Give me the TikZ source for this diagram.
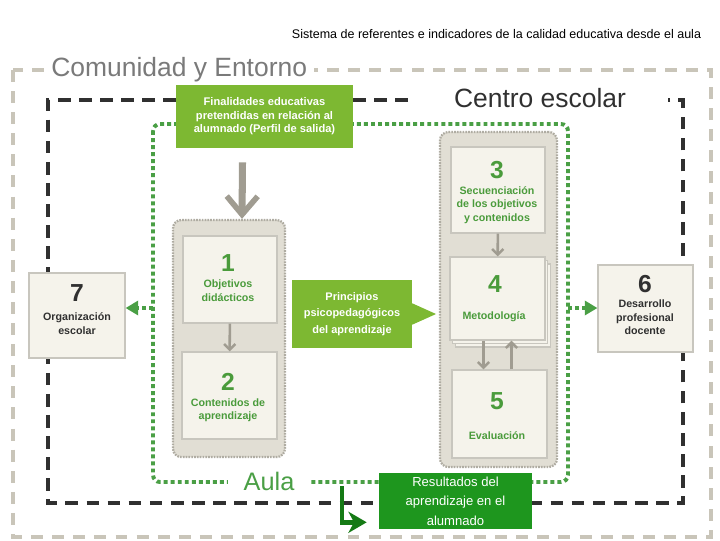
\documentclass[tikz,border=0pt]{standalone}
\usepackage{fontspec}
\setmainfont{Liberation Sans}
\usepackage{tikz}
\usetikzlibrary{arrows.meta, calc, positioning, shadows}

\definecolor{entornogray}{HTML}{C9C5B9}
\definecolor{entornotext}{HTML}{7A7A7A}
\definecolor{centroblack}{HTML}{303030}
\definecolor{aulagreen}{HTML}{4A9F45}
\definecolor{lightgreen}{HTML}{7DB832}
\definecolor{darkgreen}{HTML}{1E961E}
\definecolor{arrowgreen}{HTML}{157A15}
\definecolor{trayfill}{HTML}{E1DED4}
\definecolor{trayline}{HTML}{AFACA2}
\definecolor{cardfill}{HTML}{F5F3EB}
\definecolor{cardline}{HTML}{C8C6BE}
\definecolor{arrowgray}{HTML}{A09C91}
\definecolor{numgreen}{HTML}{4A9B3B}

\begin{document}
\begin{tikzpicture}[x=0.025cm, y=-0.025cm,
  entorno/.style={entornogray, line width=2.4pt, dash pattern=on 8.5pt off 6.5pt},
  centro/.style={centroblack, line width=2.8pt, dash pattern=on 9pt off 6pt},
  aulaframe/.style={aulagreen, line width=2.8pt, dash pattern=on 2.8pt off 2.2pt, rounded corners=5pt},
  tray/.style={draw=trayline, fill=trayfill, line width=1.6pt, dash pattern=on 1.2pt off 0.8pt, rounded corners=6pt, inner sep=0pt},
  card/.style={draw=cardline, fill=cardfill, line width=0.8pt, inner sep=0pt},
  pages/.style={card, double copy shadow={shadow xshift=2pt, shadow yshift=-2.5pt, draw=cardline, fill=cardfill}},
  num/.style={font=\fontsize{17.5}{20}\selectfont\bfseries, text=numgreen, inner sep=0pt},
  cardtxt/.style={font=\fontsize{7.6}{9.6}\selectfont\bfseries, text=numgreen, align=center, inner sep=0pt},
  greenbox/.style={fill=lightgreen, text=white, align=center, inner sep=0pt},
  bigtitle/.style={font=\fontsize{18.8}{21}\selectfont},
  thickgray/.style={arrowgray, line width=5pt, -{Straight Barb[length=13pt, width=22pt, line width=4pt]}},
  thingray/.style={arrowgray, line width=1.8pt, -{Straight Barb[length=4pt, width=8pt]}},
  dotarrow/.style={aulagreen, line width=2.8pt, dash pattern=on 2.8pt off 2.2pt, -{Triangle[length=9pt, width=10pt]}},
  princarrow/.style={lightgreen, line width=1pt, shorten >=2pt, -{Triangle[length=17pt, width=15pt]}},
  resarrow/.style={arrowgreen, line width=3.5pt, -{Stealth[length=13pt, width=15pt, inset=4pt]}},
]
\useasboundingbox (0,0) rectangle (720,540);

% Frames
\draw[entorno] (13,70) rectangle (711,537);
\draw[centro] (408,100) -- (48,100) -- (48,503) -- (683,503) -- (683,100) -- (668,100);
\draw[aulaframe] (153,124) rectangle (568,482);

% Frame labels
\node[bigtitle, anchor=west, fill=white, inner xsep=5pt, text=entornotext] (entorno-lbl) at (44,70) {Comunidad y Entorno};
\node[bigtitle, text=centroblack] (centro-lbl) at (540,98) {Centro escolar};
\node[bigtitle, font=\fontsize{18}{20}\selectfont, fill=white, inner xsep=11pt, text=aulagreen] (aula-lbl) at (269,481) {Aula};

% Title
\node[anchor=east, font=\fontsize{8.9}{10}\selectfont] (title) at (706,34) {Sistema de referentes e indicadores de la calidad educativa desde el aula};

% Trays
\node[tray, minimum width=2.8cm, minimum height=5.925cm] (ltray) at (229,338.5) {};
\node[tray, minimum width=2.925cm, minimum height=8.375cm] (rtray) at (498.5,299.5) {};

% Cards in the left tray
\node[card, minimum width=2.35cm, minimum height=2.175cm] (obj) at (230,279.5) {};
\node[num] (obj-n) at (228,263) {1};
\node[cardtxt] (obj-t) at (228,290.5) {Objetivos\\didácticos};

\node[card, minimum width=2.375cm, minimum height=2.175cm] (cont) at (229.5,395.5) {};
\node[num] (cont-n) at (228,382) {2};
\node[cardtxt] (cont-t) at (228,410) {Contenidos de\\aprendizaje};

% Cards in the right tray
\node[card, minimum width=2.35cm, minimum height=2.15cm] (sec) at (498,190) {};
\node[num] (sec-n) at (497,170) {3};
\node[cardtxt] (sec-t) at (497,205) {Secuenciación\\de los objetivos\\y contenidos};

\node[pages, minimum width=2.375cm, minimum height=2.075cm] (met) at (497.5,298.5) {};
\node[num] (met-n) at (495,284) {4};
\node[cardtxt] (met-t) at (494,317) {Metodología};

\node[card, minimum width=2.375cm, minimum height=2.2cm] (eva) at (499.5,414) {};
\node[num] (eva-n) at (497,401.5) {5};
\node[cardtxt] (eva-t) at (497,436) {Evaluación};

% Cards outside
\node[card, minimum width=2.4cm, minimum height=2.125cm] (org) at (77,315.5) {};
\node[num, text=centroblack] (org-n) at (77,293) {7};
\node[cardtxt, text=centroblack] (org-t) at (77,323.5) {Organización\\escolar};

\node[card, minimum width=2.375cm, minimum height=2.175cm] (des) at (645.5,308.5) {};
\node[num, text=centroblack] (des-n) at (645,284.5) {6};
\node[cardtxt, text=centroblack] (des-t) at (645,317.5) {Desarrollo\\profesional\\docente};

% Green boxes
\node[greenbox, minimum width=4.425cm, minimum height=1.575cm, font=\fontsize{7.9}{9.6}\selectfont\bfseries] (fin) at (264.5,116.5) {Finalidades educativas\\pretendidas en relación al\\alumnado (Perfil de salida)};
\node[greenbox, minimum width=3cm, minimum height=1.7cm, font=\fontsize{7.8}{11.7}\selectfont\bfseries] (princ) at (352,314) {Principios\\psicopedagógicos\\del aprendizaje};
\node[greenbox, fill=darkgreen, minimum width=3.825cm, minimum height=1.4cm, font=\fontsize{9.3}{13.8}\selectfont] (res) at (455.5,501) {Resultados del\\aprendizaje en el\\alumnado};

% Arrows
\draw[thickgray] ([xshift=-0.55cm, yshift=-0.35cm]fin.south) -- ([xshift=0.325cm]ltray.north);
\draw[thingray] (obj) -- (cont);
\draw[thingray] (sec) -- (met);
\draw[thingray] ([xshift=-0.35cm]met.south) -- ([xshift=-0.35cm]met.south |- eva.north);
\draw[thingray] ([xshift=0.3cm]eva.north) -- ([xshift=0.3cm]eva.north |- met.south);
\draw[princarrow] (princ.east) -- (princ.east -| rtray.west);

\coordinate (aula-w) at (153,308);
\coordinate (aula-e) at (568,308);
\coordinate (aula-s) at (342,486);
\draw[dotarrow] (aula-w) -- (aula-w -| org.east);
\draw[dotarrow] (aula-e) -- (aula-e -| des.west);
\draw[resarrow] (aula-s) |- ($(res.south west)+(-12,-7)$);

\end{tikzpicture}
\end{document}
